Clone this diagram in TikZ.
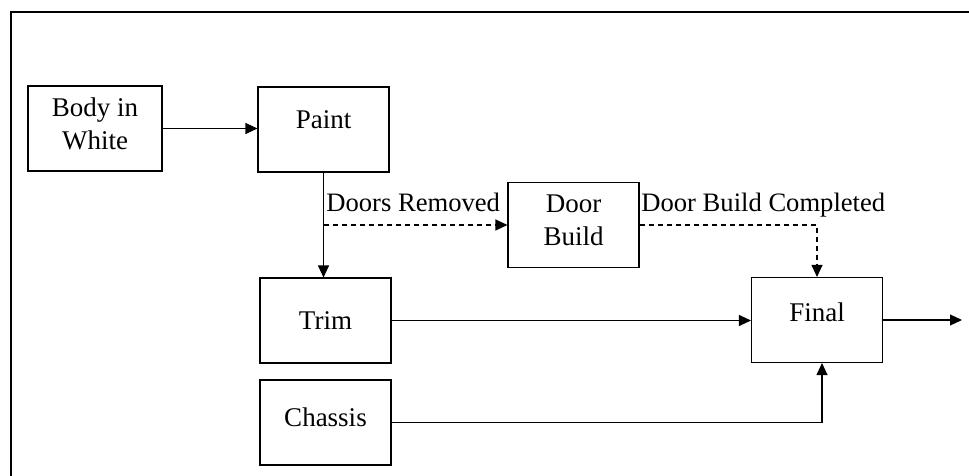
\documentclass[tikz,border=0pt]{standalone}
\usepackage{fontspec}
\setmainfont{Liberation Serif}
\usetikzlibrary{arrows.meta,positioning}

\begin{document}
\begin{tikzpicture}[
    x=0.5pt, y=-0.5pt,
    stage/.style={rectangle, draw, line width=0.55pt, minimum width=65.5pt, minimum height=42.5pt, inner sep=0pt, align=center, font=\fontsize{13.5}{16.5}\selectfont},
    tag/.style={inner sep=0pt, anchor=base west, font=\fontsize{13.3}{16.5}\selectfont},
    arrow/.style={line width=0.55pt, -{Triangle[length=6pt,width=5.5pt]}},
    flow/.style={arrow, dash pattern=on 2.5pt off 2pt}
]
\useasboundingbox (0,0) rectangle (969,476);

% Frame
\draw[line width=1pt] (11,476) -- (11,12) -- (969,12);

% Stations
\node[stage, minimum width=67pt, text depth=4.5pt] (biw) at (95,128.5) {Body in\\White};
\node[stage, text depth=9.5pt] (paint) at (323.5,129.5) {Paint};
\node[stage, text depth=5pt] (door) at (573.5,225) {Door\\Build};
\node[stage] (trim) at (325.5,320.5) {Trim};
\node[stage, text depth=5.5pt] (chassis) at (325.5,422.5) {Chassis};
\node[stage, text depth=7.5pt] (final) at (817,320) {Final};

% Labels
\node[tag] (removed) at (326,211) {Doors Removed};
\node[tag] (completed) at (641,211) {Door Build Completed};

\coordinate (split) at (paint.south |- door.west);
\coordinate (out) at (final.east -| 962,0);

% Arrows
\draw[arrow] (biw.east) -- (biw.east -| paint.west);
\draw[arrow] (paint.south) -- (paint.south |- trim.north);
\draw[flow] (split) -- (door.west);
\draw[flow] (door.east) -| (final.north);
\draw[arrow] (trim.east) -- (trim.east -| final.west);
\draw[arrow] (chassis.east) -| ([xshift=2.5pt]final.south);
\draw[arrow] (final.east) -- (out);

\end{tikzpicture}
\end{document}
